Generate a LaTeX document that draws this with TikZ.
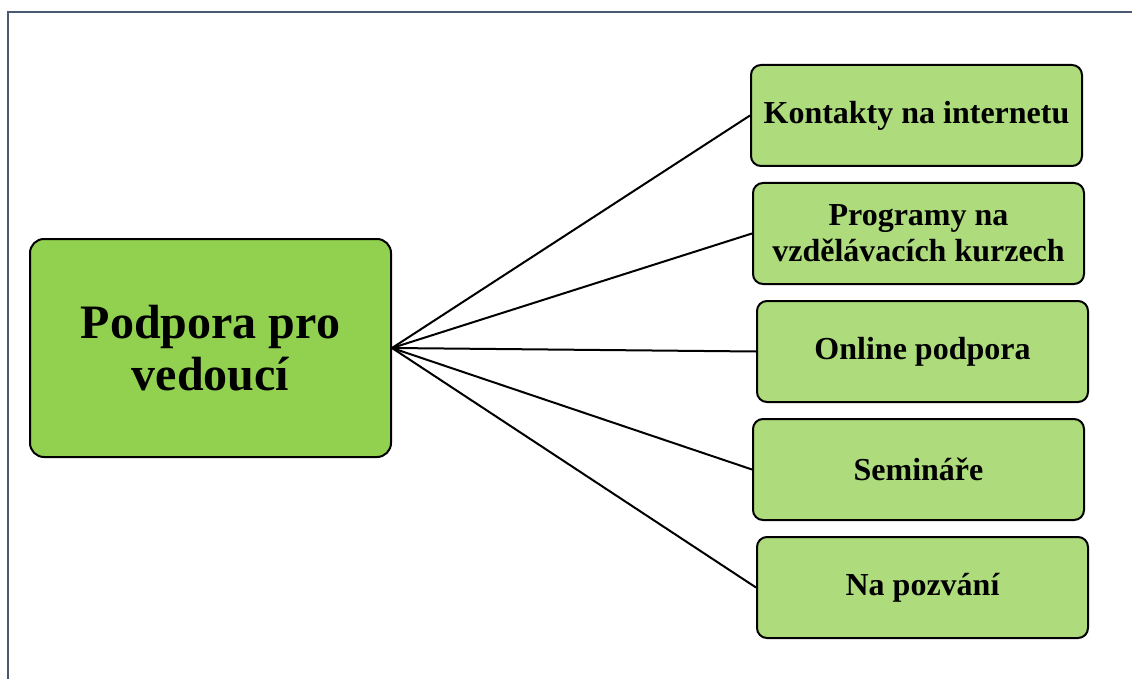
\documentclass[tikz,border=0pt]{standalone}
\usepackage{fontspec}
\setmainfont{Liberation Serif}
\usepackage{xcolor}
\usepackage{tikz}
\usetikzlibrary{positioning}
\definecolor{maingreen}{HTML}{92D050}
\definecolor{lightgreen}{HTML}{AEDB7C}
\definecolor{framegray}{HTML}{4A5A70}

\begin{document}
\begin{tikzpicture}[
    x=1pt, y=-1pt,
    node distance=15pt,
    mainbox/.style={rectangle, rounded corners=14pt, draw=black, fill=maingreen, line width=2pt, minimum width=361pt, minimum height=218pt, align=center, font=\fontsize{48}{52}\selectfont\bfseries},
    box/.style={rectangle, rounded corners=10pt, draw=black, fill=lightgreen, line width=2pt, minimum width=331pt, minimum height=101pt, align=center, font=\fontsize{32}{36}\selectfont\bfseries},
    link/.style={draw=black, line width=2pt}
]

\useasboundingbox (0,0) rectangle (1132,679);
\draw[framegray, line width=2.5pt] (8,679) -- (8,12) -- (1132,12);

\node[mainbox] (podpora) at (210.5,348) {Podpora pro\\vedoucí};

\node[box] (kontakty) at (916.5,115.5) {Kontakty na internetu};
\node[box, below=of kontakty, xshift=2pt] (programy) {Programy na\\vzdělávacích kurzech};
\node[box, below=of programy, xshift=4pt] (online) {Online podpora};
\node[box, below=of online, xshift=-4pt] (seminare) {Semináře};
\node[box, below=of seminare, xshift=4pt] (pozvani) {Na pozvání};

\draw[link] (podpora.east) -- (kontakty.west);
\draw[link] (podpora.east) -- (programy.west);
\draw[link] (podpora.east) -- (online.west);
\draw[link] (podpora.east) -- (seminare.west);
\draw[link] (podpora.east) -- (pozvani.west);

\end{tikzpicture}
\end{document}
